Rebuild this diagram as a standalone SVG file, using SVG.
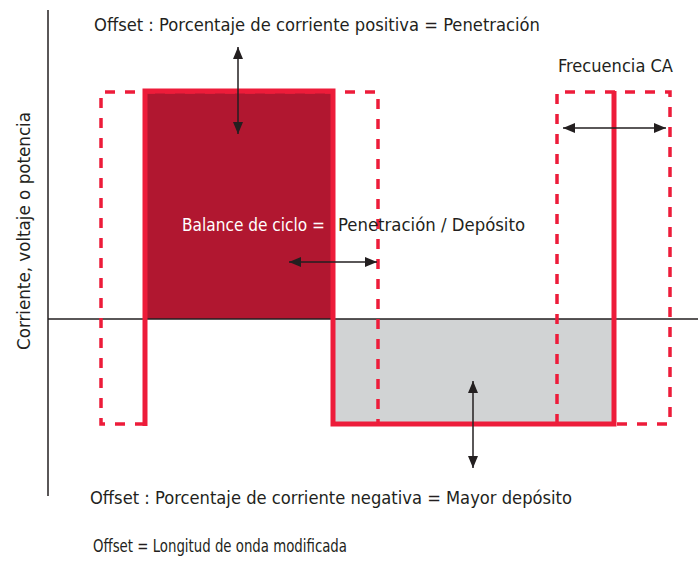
<svg xmlns="http://www.w3.org/2000/svg" width="698" height="580" viewBox="0 0 698 580">
<style>
.txt{font-family:"DejaVu Sans Condensed","Liberation Sans",sans-serif;font-stretch:condensed;font-size:18.5px;fill:#231f20}
.wht{fill:#ffffff}
.axis{stroke:#231f20;stroke-width:1.5;fill:none}
.dash{stroke:#ed1c3a;stroke-width:3.5;fill:none;stroke-dasharray:10 10}
.solid{stroke:#ed1c3a;stroke-width:5;fill:none}
.arr{stroke:#231f20;stroke-width:1.5;fill:none;marker-start:url(#ah);marker-end:url(#ah)}
</style>
<defs>
<marker id="ah" viewBox="0 0 12 12" refX="12" refY="6" markerWidth="12" markerHeight="12" markerUnits="userSpaceOnUse" orient="auto-start-reverse">
<path d="M0,1 L12,6 L0,11 Z" fill="#231f20"/>
</marker>
</defs>
<g id="areas">
<rect x="145" y="91" width="188" height="228" fill="#b11730"/>
<rect x="333" y="319" width="281" height="105" fill="#d1d3d4"/>
</g>
<g id="axes">
<line class="axis" x1="48" y1="10" x2="48" y2="496"/>
<line class="axis" x1="48" y1="319" x2="698" y2="319"/>
</g>
<g id="waves">
<path class="dash" d="M145,424 H101 V92 H378 V424"/>
<path class="dash" d="M557,424 V92 H670 V424 H614"/>
<path class="solid" d="M145,426 V91 H333 V424 H614 V91"/>
</g>
<g id="connectors">
<line class="arr" x1="238" y1="47" x2="238" y2="134"/>
<line class="arr" x1="289" y1="262" x2="377" y2="262"/>
<line class="arr" x1="563" y1="128" x2="666" y2="128"/>
<line class="arr" x1="473" y1="381" x2="473" y2="468"/>
</g>
<g id="labels">
<text class="txt" x="94" y="31" textLength="446" lengthAdjust="spacingAndGlyphs">Offset : Porcentaje de corriente positiva = Penetración</text>
<text class="txt" x="558" y="72" textLength="115" lengthAdjust="spacingAndGlyphs">Frecuencia CA</text>
<text class="txt wht" x="182" y="231" textLength="143" lengthAdjust="spacingAndGlyphs">Balance de ciclo =</text>
<text class="txt" x="338" y="231" textLength="187" lengthAdjust="spacingAndGlyphs">Penetración / Depósito</text>
<text class="txt" x="90" y="504" textLength="482" lengthAdjust="spacingAndGlyphs">Offset : Porcentaje de corriente negativa = Mayor depósito</text>
<text class="txt" x="93" y="552" textLength="254" lengthAdjust="spacingAndGlyphs">Offset = Longitud de onda modificada</text>
<text class="txt" transform="translate(30,350) rotate(-90)" x="0" y="0" textLength="238" lengthAdjust="spacingAndGlyphs">Corriente, voltaje o potencia</text>
</g>
</svg>
